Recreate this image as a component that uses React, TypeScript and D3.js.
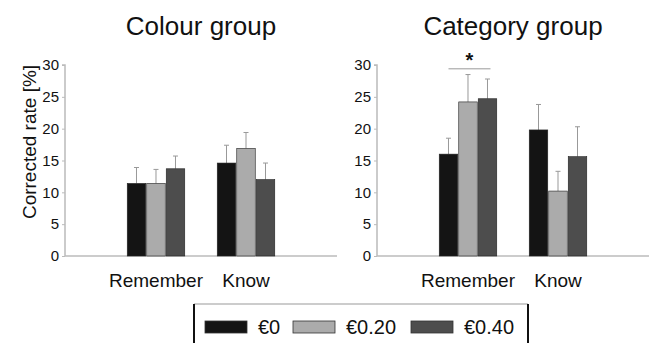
import * as d3 from 'd3';
import { useEffect, useRef } from 'react';

const categories = ['Remember', 'Know'];
const series = ['€0', '€0.20', '€0.40'];
const colors = ['#141414', '#ababab', '#4d4d4d'];
const yTicks = [0, 5, 10, 15, 20, 25, 30];

// colour group: means and upper error (top of whisker)
const colourMeans = [
  [11.4, 11.4, 13.7],
  [14.6, 16.9, 12.0],
];
const colourErr = [
  [13.9, 13.6, 15.7],
  [17.4, 19.4, 14.6],
];

// category group
const categoryMeans = [
  [16.0, 24.2, 24.7],
  [19.8, 10.2, 15.6],
];
const categoryErr = [
  [18.5, 28.5, 27.8],
  [23.8, 13.3, 20.3],
];

const FONT = '"Liberation Sans", Arial, Helvetica, sans-serif';

const App = () => {
  const ref = useRef<SVGSVGElement>(null);

  useEffect(() => {
    const svg = d3.select(ref.current);
    svg.selectAll('*').remove();

    const top = 65;
    const bottom = 256;
    const panelW = 272;

    const y = d3.scaleLinear().domain([0, 30]).range([bottom, top]);

    const drawPanel = (
      left: number,
      title: string,
      means: number[][],
      errs: number[][],
      sig: boolean
    ) => {
      const g = svg.append('g').attr('transform', `translate(${left},0)`);

      const x0 = d3.scaleBand().domain(categories).range([0, panelW])
        .paddingInner(0.35).paddingOuter(0.686);
      const x1 = d3.scaleBand().domain(series).range([0, x0.bandwidth()]);

      g.append('text')
        .attr('x', panelW / 2)
        .attr('y', 35)
        .attr('text-anchor', 'middle')
        .attr('font-size', 26)
        .attr('fill', '#111')
        .text(title);

      // y axis
      const yAxis = g.append('g').call(d3.axisLeft(y).tickValues(yTicks).tickSize(3).tickPadding(3));
      yAxis.select('.domain').attr('stroke', '#bbb').attr('stroke-width', 1.5).attr('d', `M-3,${top}H0V${bottom}`);
      yAxis.selectAll('.tick line').attr('stroke', '#bbb');
      yAxis.selectAll('.tick text')
        .attr('font-size', 15)
        .attr('font-family', FONT)
        .attr('fill', '#111');

      // x baseline
      g.append('line')
        .attr('x1', 0).attr('x2', panelW)
        .attr('y1', y(0)).attr('y2', y(0))
        .attr('stroke', '#bbb').attr('stroke-width', 1.5);

      categories.forEach((c, ci) => {
        const gx = x0(c)!;
        series.forEach((s, si) => {
          const bx = gx + x1(s)!;
          const cx = bx + x1.bandwidth() / 2;
          g.append('line')
            .attr('x1', cx).attr('x2', cx)
            .attr('y1', y(means[ci][si])).attr('y2', y(errs[ci][si]))
            .attr('stroke', '#999').attr('stroke-width', 1);
          g.append('line')
            .attr('x1', cx - 2.5).attr('x2', cx + 2.5)
            .attr('y1', y(errs[ci][si])).attr('y2', y(errs[ci][si]))
            .attr('stroke', '#999').attr('stroke-width', 1);
          g.append('rect')
            .attr('x', bx + 0.5)
            .attr('y', y(means[ci][si]))
            .attr('width', x1.bandwidth() - 1)
            .attr('height', y(0) - y(means[ci][si]))
            .attr('fill', colors[si])
            .attr('stroke', '#222')
            .attr('stroke-width', 0.6);
        });
        g.append('text')
          .attr('x', gx + x0.bandwidth() / 2)
          .attr('y', 287)
          .attr('text-anchor', 'middle')
          .attr('font-size', 19)
          .attr('fill', '#111')
          .text(c);
      });

      if (sig) {
        const gx = x0(categories[0])!;
        const xa = gx + x1(series[0])! + x1.bandwidth() / 2;
        const xb = gx + x1(series[2])! + x1.bandwidth() / 2 + 3;
        g.append('line')
          .attr('x1', xa).attr('x2', xb)
          .attr('y1', y(29.4)).attr('y2', y(29.4))
          .attr('stroke', '#999').attr('stroke-width', 1);
        g.append('text')
          .attr('x', (xa + xb) / 2)
          .attr('y', y(29.4) - 2)
          .attr('text-anchor', 'middle')
          .attr('font-size', 20)
          .attr('font-weight', 'bold')
          .attr('fill', '#111')
          .text('*');
      }
    };

    drawPanel(65, 'Colour group', colourMeans, colourErr, false);
    drawPanel(377, 'Category group', categoryMeans, categoryErr, true);

    // y label
    svg.append('text')
      .attr('transform', `translate(36,142) rotate(-90)`)
      .attr('text-anchor', 'middle')
      .attr('font-size', 19)
      .attr('fill', '#111')
      .text('Corrected rate [%]');

    // legend
    const lg = svg.append('g').attr('transform', 'translate(194,304)');
    lg.append('line').attr('x1', 0).attr('x2', 334).attr('y1', 0).attr('y2', 0)
      .attr('stroke', '#999').attr('stroke-width', 1);
    lg.append('line').attr('x1', 0).attr('x2', 0).attr('y1', 0).attr('y2', 45)
      .attr('stroke', '#111').attr('stroke-width', 2);
    lg.append('line').attr('x1', 334).attr('x2', 334).attr('y1', 0).attr('y2', 45)
      .attr('stroke', '#111').attr('stroke-width', 2);
    const legendX = [11, 99, 217];
    series.forEach((s, i) => {
      lg.append('rect')
        .attr('x', legendX[i]).attr('y', 17)
        .attr('width', 42).attr('height', 12)
        .attr('fill', colors[i])
        .attr('stroke', '#333').attr('stroke-width', 0.8);
      lg.append('text')
        .attr('x', legendX[i] + 53).attr('y', 30)
        .attr('font-size', 20)
        .attr('fill', '#111')
        .text(s);
    });
  }, []);

  return (
    <svg
      ref={ref}
      width={651}
      height={343}
      style={{ position: 'absolute', left: 0, top: 0, background: '#fff', fontFamily: FONT }}
    />
  );
};

export default App;
